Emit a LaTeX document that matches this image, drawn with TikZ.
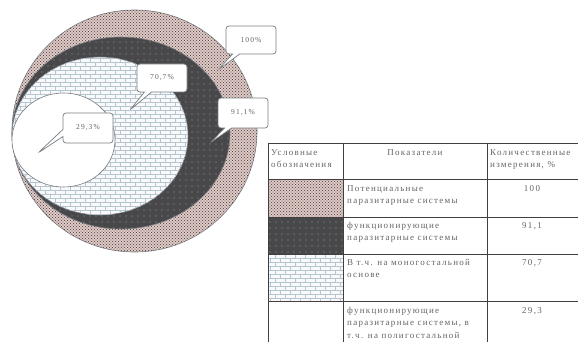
\documentclass[tikz,border=0pt]{standalone}
\usepackage{fontspec}
\setmainfont{Liberation Serif}
\newfontfamily\tabfont[LetterSpace=14]{Liberation Serif}
\usetikzlibrary{patterns,patterns.meta,shapes.callouts}
\pgfdeclarepatternformonly{smallbricks}{\pgfqpoint{-1pt}{-1pt}}{\pgfqpoint{11pt}{9pt}}{\pgfqpoint{10pt}{8pt}}{%
  \pgfsetlinewidth{0.9pt}%
  \pgfpathmoveto{\pgfqpoint{0pt}{0pt}}\pgfpathlineto{\pgfqpoint{10pt}{0pt}}%
  \pgfpathmoveto{\pgfqpoint{0pt}{4pt}}\pgfpathlineto{\pgfqpoint{10pt}{4pt}}%
  \pgfpathmoveto{\pgfqpoint{0pt}{0pt}}\pgfpathlineto{\pgfqpoint{0pt}{4pt}}%
  \pgfpathmoveto{\pgfqpoint{5pt}{4pt}}\pgfpathlineto{\pgfqpoint{5pt}{8pt}}%
  \pgfusepath{stroke}}
\pgfdeclarepatternformonly{densedots}{\pgfqpoint{-1pt}{-1pt}}{\pgfqpoint{4pt}{4pt}}{\pgfqpoint{3pt}{3pt}}{%
  \pgfpathcircle{\pgfqpoint{0pt}{0pt}}{0.7pt}%
  \pgfpathcircle{\pgfqpoint{1.5pt}{1.5pt}}{0.7pt}%
  \pgfusepath{fill}}
\definecolor{ringbase}{RGB}{232,208,204}
\definecolor{ringdot}{RGB}{85,80,82}
\definecolor{darkbase}{RGB}{72,72,74}
\definecolor{darkdot}{RGB}{150,150,150}
\definecolor{brickbase}{RGB}{250,248,248}
\definecolor{brickline}{RGB}{178,198,212}
\definecolor{edgegray}{RGB}{120,125,130}
\definecolor{txtgray}{RGB}{100,100,100}
\tikzset{
  ellline/.style={draw=edgegray, line width=0.6pt},
  ringfill/.style={fill=ringbase, postaction={pattern=densedots, pattern color=ringdot}},
  darkfill/.style={fill=darkbase, postaction={pattern={Dots[radius=0.6pt,distance=6pt]}, pattern color=darkdot}},
  brickfill/.style={fill=brickbase, postaction={pattern=smallbricks, pattern color=brickline}},
  callbox/.style={rectangle callout, draw=edgegray, fill=white, rounded corners=3pt,
    minimum width=50pt, minimum height=28pt, font=\tabfont\fontsize{7.5}{8}\selectfont, text=txtgray, line width=0.7pt},
  tline/.style={draw=black!75, line width=0.7pt},
  celltext/.style={font=\tabfont\fontsize{9}{12.5}\selectfont, text=txtgray, align=left, inner sep=0pt},
}
\begin{document}
\begin{tikzpicture}[x=1pt,y=-1pt]
\useasboundingbox (0,0) rectangle (578,342);
\clip (0,0) rectangle (578,342);
% ellipses
\path[ringfill, ellline] (134.5,131) ellipse [x radius=122.5pt, y radius=121pt];
\path[darkfill, ellline] (121,133) ellipse [x radius=109pt, y radius=96pt];
\path[brickfill, ellline] (100,136) ellipse [x radius=88pt, y radius=79pt];
\path[fill=white, ellline] (63.5,140) ellipse [x radius=51.5pt, y radius=47pt];
% callouts
\node[callbox, callout absolute pointer={(218,70)}] (c100) at (251,40) {100\%};
\node[callbox, callout absolute pointer={(130,110)}] (c70) at (162,78) {70,7\%};
\node[callbox, minimum height=30pt, callout absolute pointer={(210,143)}] (c91) at (243,113) {91,1\%};
\node[callbox, minimum height=30pt, callout absolute pointer={(38,153)}] (c29) at (88,128) {29,3\%};
% table legend swatches
\path[ringfill] (268,179) rectangle (343,217);
\path[darkfill] (268,217) rectangle (343,254);
\path[brickfill] (268,254) rectangle (343,301);
% table lines
\draw[tline] (268,143) -- (590,143);
\draw[tline] (268,179) -- (590,179);
\draw[tline] (268,217) -- (590,217);
\draw[tline] (268,254) -- (590,254);
\draw[tline] (268,301) -- (590,301);
\draw[tline] (268,143) -- (268,350);
\draw[tline] (343,143) -- (343,350);
\draw[tline] (487,143) -- (487,350);
% header texts
\node[celltext, anchor=north west] (h1) at (271,149) {Условные\\обозначения};
\node[celltext, anchor=north] (h2) at (415,149) {Показатели};
\node[celltext, anchor=north west] (h3) at (490,149) {Количественные\\измерения, \%};
% row texts
\node[celltext, anchor=north west] (r1) at (347,185) {Потенциальные\\паразитарные системы};
\node[celltext, anchor=north west] (r2) at (347,222) {функционирующие\\паразитарные системы};
\node[celltext, anchor=north west] (r3) at (347,259) {В т.ч. на моногостальной\\основе};
\node[celltext, anchor=north west] (r4) at (347,307) {функционирующие\\паразитарные системы, в\\т.ч. на полигостальной};
% numbers
\node[celltext, anchor=north] (n1) at (532,185) {100};
\node[celltext, anchor=north] (n2) at (532,222) {91,1};
\node[celltext, anchor=north] (n3) at (532,259) {70,7};
\node[celltext, anchor=north] (n4) at (532,307) {29,3};
\end{tikzpicture}
\end{document}
